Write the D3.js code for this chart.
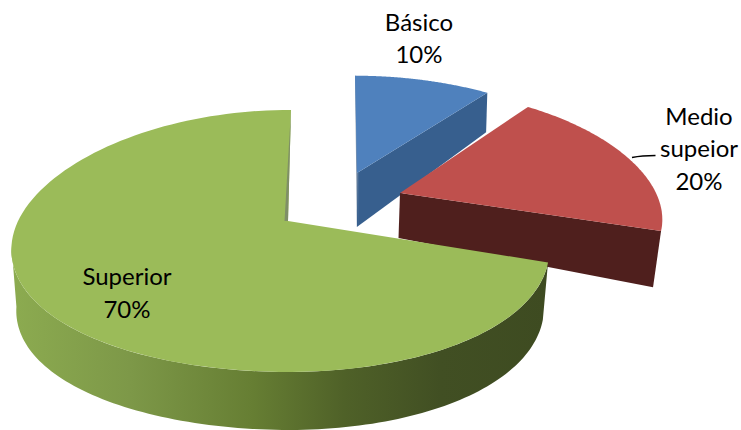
<!DOCTYPE html>
<html>
<head>
<meta charset="utf-8">
<script src="https://cdn.jsdelivr.net/npm/d3@7"></script>
<style>
html,body{margin:0;padding:0;background:#fff}
svg{display:block}
text{font-family:Lato,"Open Sans",sans-serif;font-size:24px;fill:#000;text-anchor:middle}
</style>
</head>
<body>
<svg id="c" width="741" height="430"></svg>
<script>
const categories = ["Básico", "Medio superior", "Superior"];
const values = [10, 20, 70];
const labelLines = [["Básico", "10%"], ["Medio", "supeior", "20%"], ["Superior", "70%"]];

// Appearance of each exploded slice in the 3D view
const views = [
  {cx:357, cy:173, rxR:264, rxL:264, ry:108, bx:.218, by:.11,  sk:-2, d0:54, d1:18, dl:0, shrinkR:.992, shrinkL:.992, top:"#4f81bd", wall:"#375f8e", edge:"#8497ad", labelX:419, labelY:[31,63]},
  {cx:400, cy:193, rxR:256, rxL:256, ry:118, bx:.218, by:.135, sk:0,  d0:45, d1:36, dl:0, shrinkR:.975, shrinkL:.975, top:"#bf504d", wall:"#4f1f1d", edge:null, labelX:699, labelY:[125,157,190]},
  {cx:288, cy:221, rxR:255, rxL:270, ry:128, bx:.218, by:.152, sk:3,  d0:57, d1:1,  dl:4, shrinkR:.975, shrinkL:.985, top:"#9bbb59", wall:"url(#greenWall)", edge:"#7f8f66", labelX:127, labelY:[285,318]}
];
const vanishX = 340;

const svg = d3.select("#c");
const pie = d3.pie().sort(null).startAngle(0).endAngle(2*Math.PI);
const arcs = pie(values);

const grad = svg.append("defs").append("linearGradient")
  .attr("id","greenWall").attr("gradientUnits","userSpaceOnUse")
  .attr("x1",12).attr("x2",548).attr("y1",0).attr("y2",0);
[[0,"#8cab50"],[.22,"#7d9848"],[.45,"#667e33"],[.62,"#4f6128"],[.8,"#414f23"],[1,"#3e4b21"]]
  .forEach(([o,c])=>grad.append("stop").attr("offset",o).attr("stop-color",c));

function project(v, a, r, lower){
  const u = r*Math.sin(a), w = r*Math.cos(a);
  const rx = u < 0 ? v.rxL : v.rxR;
  let x = v.cx + rx*u/(1+v.bx*w) + v.sk*Math.max(w,0);
  let y = v.cy - v.ry*w/(1+v.by*w);
  if(lower){
    x = vanishX + (x-vanishX)*(u < 0 ? v.shrinkL : v.shrinkR);
    y += v.d0 - v.d1*w + v.dl*Math.pow(Math.max(-u,0),3);
  }
  return [x,y];
}
const line = d3.line();
const samples = (a0,a1)=>d3.range(0,121).map(i=>a0+(a1-a0)*i/120);

arcs.forEach((d,i)=>{
  const v = views[i];
  const g = svg.append("g");
  const a0 = d.startAngle, a1 = d.endAngle;
  if(i < 2){
    // radial wall along the end edge of the slice
    const pts = [project(v,a1,0,false),project(v,a1,1,false),project(v,a1,1,true),project(v,a1,0,true)];
    g.append("path").attr("d",line(pts)+"Z").attr("fill",v.wall);
  } else {
    // outer rim of the big slice, up to where the silhouette turns
    const rimEnd = 1.44*Math.PI;
    const s = samples(a0,rimEnd);
    const pts = s.map(a=>project(v,a,1,false)).concat(s.slice().reverse().map(a=>project(v,a,1,true)));
    g.append("path").attr("d",line(pts)+"Z").attr("fill",v.wall);
  }
  if(i === 0){
    const pts = [project(v,a0,1,false),project(v,a0,0,true),project(v,a0,0,false)];
    const e = pts.map(p=>[p[0]+1.2,p[1]]);
    g.append("path").attr("d",line(pts.concat(e.reverse()))+"Z").attr("fill",v.edge);
  }
  const top = [project(v,a0,0,false)].concat(samples(a0,a1).map(a=>project(v,a,1,false)));
  g.append("path").attr("d",line(top)+"Z").attr("fill",v.top);
  if(i === 2){
    const p1 = project(v,a1,1,false), p0 = project(v,a1,0,false);
    g.append("path").attr("d",line([p1,p0,[p0[0]-3.5,p0[1]]])+"Z").attr("fill",v.edge);
  }
});

// leader line
svg.append("path").attr("d","M632,157.6Q642,155.6 655.5,155.6").attr("fill","none").attr("stroke","#000").attr("stroke-width",1.5);

labelLines.forEach((lines,i)=>{
  const v = views[i];
  lines.forEach((t,k)=>svg.append("text").attr("x",v.labelX).attr("y",v.labelY[k]).text(t));
});
</script>
</body>
</html>
